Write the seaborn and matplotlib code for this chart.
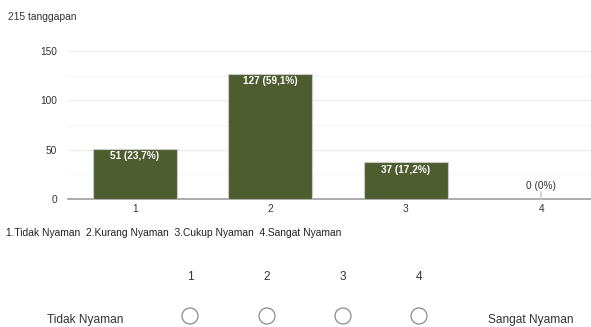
import matplotlib
matplotlib.use("Agg")
import matplotlib.pyplot as plt
import seaborn as sns
import pandas as pd
from matplotlib.patches import Ellipse

categories = ["1", "2", "3", "4"]
counts = [51, 127, 37, 0]
pct_labels = ["23,7%", "59,1%", "17,2%", "0%"]
yticks = [0, 50, 100, 150]
responses_text = "215 tanggapan"
legend_text = "1.Tidak Nyaman  2.Kurang Nyaman  3.Cukup Nyaman  4.Sangat Nyaman"
scale_numbers = ["1", "2", "3", "4"]
scale_left = "Tidak Nyaman"
scale_right = "Sangat Nyaman"

sns.set_theme(style="white")
plt.rcParams["font.family"] = ["Liberation Sans", "DejaVu Sans"]

W, H = 591, 327
fig = plt.figure(figsize=(W / 100, H / 100), dpi=100)

ax = fig.add_axes([68 / W, 1 - 199 / H, 540 / W, 148 / H])
df = pd.DataFrame({"cat": categories, "n": counts})
sns.barplot(data=df, x="cat", y="n", color="#4e5d30", saturation=1,
            width=0.62, edgecolor="#c9c9c9", linewidth=0.8, ax=ax, zorder=3)
ax.set_ylim(0, 150)
ax.set_yticks(yticks)
ax.set_yticks([25, 75, 125], minor=True)
ax.grid(axis="y", which="major", color="#ebebeb", lw=0.8, zorder=0)
ax.grid(axis="y", which="minor", color="#f6f6f6", lw=0.8, zorder=0)
ax.set_xlabel("")
ax.set_ylabel("")
for s in ["top", "right", "left"]:
    ax.spines[s].set_visible(False)
ax.spines["bottom"].set_color("#9e9e9e")
ax.spines["bottom"].set_linewidth(1.2)
ax.tick_params(axis="both", length=0, labelsize=7.3, colors="#333333")
ax.tick_params(axis="y", pad=8)
ax.tick_params(axis="x", pad=3.5)
ax.set_facecolor("white")

for i, (n, p) in enumerate(zip(counts, pct_labels)):
    lab = f"{n} ({p})"
    if n > 10:
        ax.annotate(lab, (i, n), xytext=(0, -2), textcoords="offset points",
                    ha="center", va="top", fontsize=7.2, color="white",
                    fontweight="bold", zorder=5)
    else:
        ax.plot([i, i], [0, 7], color="#d0d0d0", lw=1.2, zorder=4, clip_on=False)
        ax.annotate(lab, (i, 7), xytext=(0, 1), textcoords="offset points",
                    ha="center", va="bottom", fontsize=7.3, color="#333333",
                    zorder=5)

fig.text(8 / W, 1 - 17 / H, responses_text, fontsize=7.4, color="#333333",
         va="center", ha="left")
fig.text(6 / W, 1 - 233 / H, legend_text, fontsize=7.4, color="#222222",
         va="center", ha="left")

xs = [190, 267, 343, 419]
for x, t in zip(xs, scale_numbers):
    fig.text(x / W, 1 - 277 / H, t, fontsize=8.6, color="#333333",
             ha="center", va="center")
    fig.add_artist(Ellipse((x / W, 1 - 316 / H), 16 / W, 16 / H,
                           transform=fig.transFigure,
                           fill=False, edgecolor="#8a8a8a", lw=0.9))
fig.text(85 / W, 1 - 320 / H, scale_left, fontsize=8.6, color="#333333",
         ha="center", va="center")
fig.text(531 / W, 1 - 320 / H, scale_right, fontsize=8.6, color="#333333",
         ha="center", va="center")

fig.savefig("out.png", dpi=100)
